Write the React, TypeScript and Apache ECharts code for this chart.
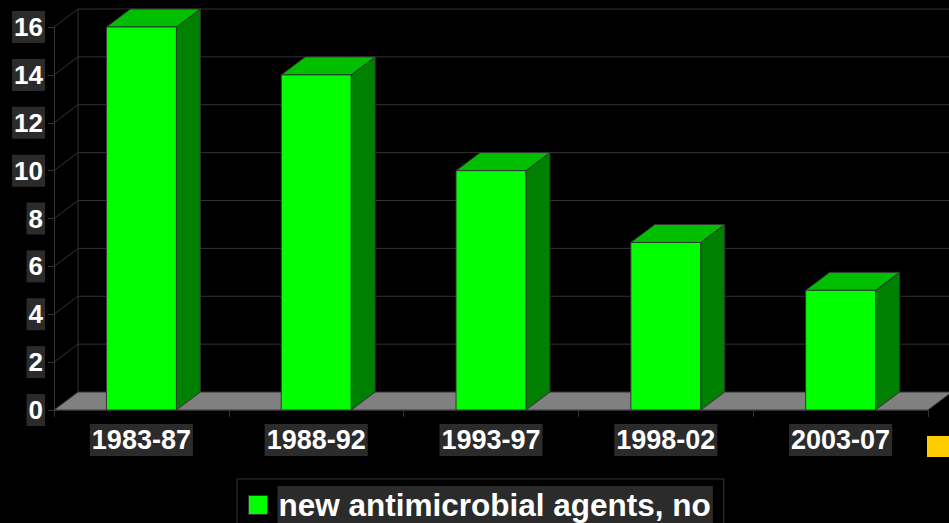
import React, { useEffect, useRef } from "react";
import * as echarts from "echarts";

const categories: string[] = ["1983-87", "1988-92", "1993-97", "1998-02", "2003-07"];
const agentCounts: number[] = [16, 14, 10, 7, 5];
const yTicks: number[] = [0, 2, 4, 6, 8, 10, 12, 14, 16];
const seriesName = "new antimicrobial agents, no";

const FONT = "'Liberation Sans', Arial, Helvetica, sans-serif";
const DX = 24;
const DY = -18;
const LINE = "#333333";
const LABEL_BG = "#2b2b2b";

export default function App() {
  const ref = useRef<HTMLDivElement>(null);

  useEffect(() => {
    if (!ref.current) return;
    const chart = echarts.init(ref.current, undefined, { renderer: "svg" });

    const option: any = {
      animation: false,
      backgroundColor: "#000000",
      grid: { left: 54, right: 21, top: 27, bottom: 113, containLabel: false },
      xAxis: {
        type: "category",
        data: categories,
        axisLine: { show: true, lineStyle: { color: LINE, width: 1 } },
        axisTick: { show: true, length: 7, lineStyle: { color: LINE } },
        axisLabel: {
          margin: 14,
          color: "#ffffff",
          fontFamily: FONT,
          fontWeight: "bold",
          fontSize: 27,
          lineHeight: 26,
          backgroundColor: LABEL_BG,
          padding: [3, 2, 3, 2],
        },
        splitLine: { show: false },
      },
      yAxis: {
        type: "value",
        min: 0,
        max: 16,
        interval: 2,
        axisLine: { show: true, lineStyle: { color: LINE, width: 1 } },
        axisTick: { show: true, length: 6, lineStyle: { color: LINE } },
        axisLabel: {
          margin: 9,
          color: "#ffffff",
          fontFamily: FONT,
          fontWeight: "bold",
          fontSize: 26,
          lineHeight: 26,
          backgroundColor: LABEL_BG,
          padding: [3, 2, 3, 2],
        },
        splitLine: { show: false },
      },
      legend: {
        data: [seriesName],
        left: 237,
        top: 479,
        orient: "horizontal",
        borderColor: LINE,
        borderWidth: 1,
        padding: [7, 11, 7, 11],
        itemWidth: 19,
        itemHeight: 19,
        icon: "rect",
        itemStyle: { borderColor: LINE, borderWidth: 1 },
        formatter: (name: string) => `{s| }{t|${name}}`,
        textStyle: {
          rich: {
            s: { width: 5, fontSize: 10 },
            t: {
              color: "#ffffff",
              fontFamily: FONT,
              fontWeight: "bold",
              fontSize: 31.5,
              lineHeight: 31,
              backgroundColor: LABEL_BG,
              padding: [3, 2, 3, 1],
            },
          },
        },
      },
      graphic: [
        {
          type: "rect",
          left: 927,
          top: 436,
          shape: { x: 0, y: 0, width: 24, height: 21 },
          style: { fill: "#FFCC00" },
        },
      ],
      series: [
        {
          type: "custom",
          name: "walls",
          z: 1,
          silent: true,
          data: yTicks.map((v) => [0, v]),
          encode: { x: 0, y: 1 },
          renderItem: (params: any, api: any) => {
            const cs = params.coordSys;
            const v = api.value(1);
            const y = api.coord([0, v])[1];
            const x0 = cs.x;
            const x1 = cs.x + cs.width;
            const children: any[] = [];
            const ls = { stroke: LINE, lineWidth: 1 };
            if (v === 0) {
              const yTop = api.coord([0, yTicks[yTicks.length - 1]])[1];
              children.push({
                type: "line",
                shape: { x1: x0 + DX, y1: y + DY, x2: x0 + DX, y2: yTop + DY },
                style: ls,
              });
              children.push({
                type: "polygon",
                shape: {
                  points: [
                    [x0, y],
                    [x1, y],
                    [x1 + DX, y + DY],
                    [x0 + DX, y + DY],
                  ],
                },
                style: { fill: "#808080", stroke: LINE, lineWidth: 1 },
              });
            } else {
              children.push({
                type: "line",
                shape: { x1: x0, y1: y, x2: x0 + DX, y2: y + DY },
                style: ls,
              });
              children.push({
                type: "line",
                shape: { x1: x0 + DX, y1: y + DY, x2: x1 + DX, y2: y + DY },
                style: ls,
              });
            }
            return { type: "group", children };
          },
        },
        {
          type: "custom",
          name: seriesName,
          z: 3,
          itemStyle: { color: "#00FF00" },
          data: agentCounts.map((v, i) => [i, v]),
          encode: { x: 0, y: 1 },
          renderItem: (params: any, api: any) => {
            const i = api.value(0);
            const v = api.value(1);
            const base = api.coord([i, 0]);
            const top = api.coord([i, v]);
            const w = api.size([1, 0])[0] * 0.4;
            const x = base[0] - w / 2;
            const yt = top[1];
            const yb = base[1];
            const st = { stroke: LINE, lineWidth: 1 };
            return {
              type: "group",
              children: [
                {
                  type: "polygon",
                  shape: {
                    points: [
                      [x + w, yt],
                      [x + w + DX, yt + DY],
                      [x + w + DX, yb + DY],
                      [x + w, yb],
                    ],
                  },
                  style: { fill: "#008000", ...st },
                },
                {
                  type: "polygon",
                  shape: {
                    points: [
                      [x, yt],
                      [x + DX, yt + DY],
                      [x + w + DX, yt + DY],
                      [x + w, yt],
                    ],
                  },
                  style: { fill: "#00BF00", ...st },
                },
                {
                  type: "rect",
                  shape: { x, y: yt, width: w, height: yb - yt },
                  style: { fill: "#00FF00", ...st },
                },
              ],
            };
          },
        },
      ],
    };

    chart.setOption(option);
    return () => chart.dispose();
  }, []);

  return (
    <div
      ref={ref}
      style={{ position: "fixed", left: 0, top: 0, width: 949, height: 523 }}
    />
  );
}
